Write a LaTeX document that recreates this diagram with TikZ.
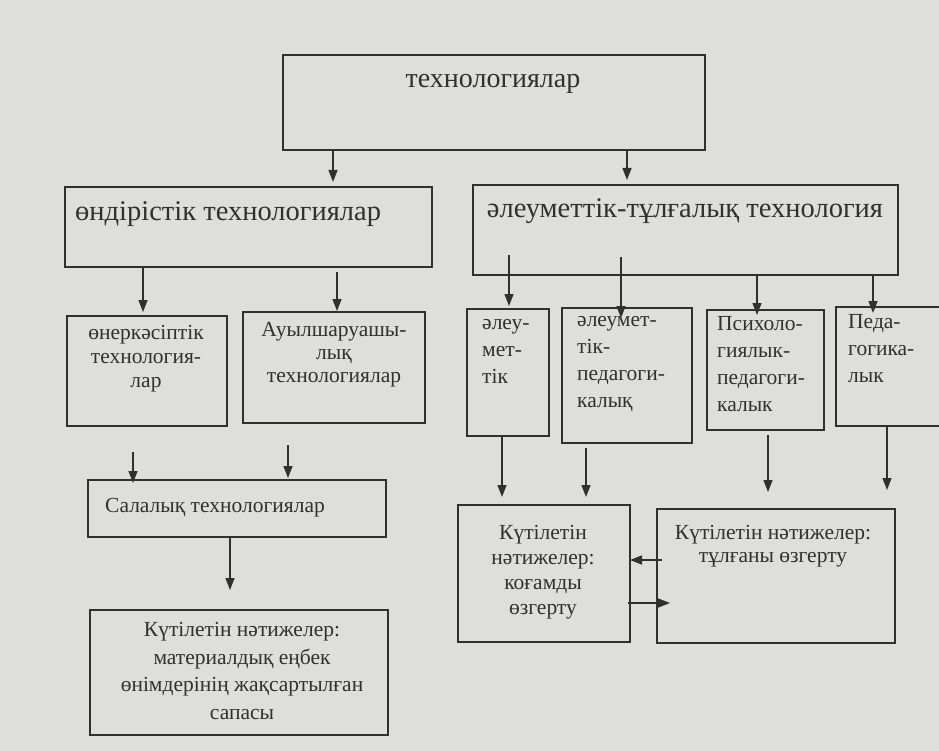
\documentclass[tikz,border=0pt]{standalone}
\usepackage{fontspec}
\setmainfont{Liberation Serif}
\usetikzlibrary{arrows.meta,calc}
\definecolor{paper}{RGB}{222,222,218}
\definecolor{ink}{RGB}{48,48,48}
\begin{document}
\begin{tikzpicture}[x=1pt,y=-1pt,
  box/.style={draw=ink, line width=1.5pt, anchor=north west, inner sep=0pt, outer sep=0pt},
  big/.style={font=\fontsize{28.5}{31}\selectfont, text=ink, inner sep=0pt},
  small/.style={text=ink, inner sep=0pt},
  arr/.style={draw=ink, line width=1.4pt, -{Triangle[length=12pt,width=9pt]}}]
\clip (0,0) rectangle (939,751);
\fill[paper] (0,0) rectangle (939,751);
% boxes
\node[box, minimum width=422pt, minimum height=95pt] (top) at (283,55) {};
\node[box, minimum width=367pt, minimum height=80pt] (prod) at (65,187) {};
\node[box, minimum width=425pt, minimum height=90pt] (soc) at (473,185) {};
\node[box, minimum width=160pt, minimum height=110pt] (ind) at (67,316) {};
\node[box, minimum width=182pt, minimum height=111pt] (agr) at (243,312) {};
\node[box, minimum width=82pt, minimum height=127pt] (r1) at (467,309) {};
\node[box, minimum width=130pt, minimum height=135pt] (r2) at (562,308) {};
\node[box, minimum width=117pt, minimum height=120pt] (r3) at (707,310) {};
\node[box, minimum width=130pt, minimum height=119pt] (r4) at (836,307) {};
\node[box, minimum width=298pt, minimum height=57pt] (sal) at (88,480) {};
\node[box, minimum width=298pt, minimum height=125pt] (res) at (90,610) {};
\node[box, minimum width=172pt, minimum height=137pt] (soc2) at (458,505) {};
\node[box, minimum width=238pt, minimum height=134pt] (pers) at (657,509) {};
% texts
\node[big, font=\fontsize{28}{31}\selectfont] (ttop) at (493,84) {технологиялар};
\node[big, anchor=west] (tprod) at (75,214) {өндірістік технологиялар};
\node[big] (tsoc) at (685,211) {әлеуметтік-тұлғалық технология};
\node[small, font=\fontsize{21.5}{24}\selectfont, align=center] (tind) at (146,359) {өнеркәсіптік\\технология-\\лар};
\node[small, font=\fontsize{21.5}{23}\selectfont, align=center] (tagr) at (334,355) {Ауылшаруашы-\\лық\\технологиялар};
\node[small, font=\fontsize{21.5}{27}\selectfont, align=left, anchor=west] (tr1) at (482,351) {әлеу-\\мет-\\тік};
\node[small, font=\fontsize{21.5}{27}\selectfont, align=left, anchor=west] (tr2) at (577,364) {әлеумет-\\тік-\\педагоги-\\калық};
\node[small, font=\fontsize{21.5}{27}\selectfont, align=left, anchor=west] (tr3) at (717,364) {Психоло-\\гиялык-\\педагоги-\\калык};
\node[small, font=\fontsize{21.5}{27}\selectfont, align=left, anchor=west] (tr4) at (848,349) {Педа-\\гогика-\\лык};
\node[small, font=\fontsize{21.5}{26}\selectfont, anchor=west] (tsal) at (105,508) {Салалық технологиялар};
\node[small, font=\fontsize{21.5}{27.5}\selectfont, align=center] (tres) at (242,671) {Күтілетін нәтижелер:\\материалдық еңбек\\өнімдерінің жақсартылған\\сапасы};
\node[small, font=\fontsize{21.5}{25}\selectfont, align=center] (tsoc2) at (543,572) {Күтілетін\\нәтижелер:\\коғамды\\өзгерту};
\node[small, font=\fontsize{21.5}{23}\selectfont, align=center] (tpers) at (773,546) {Күтілетін нәтижелер:\\тұлғаны өзгерту};
% connector columns
\coordinate (k1) at (333,0);
\coordinate (k2) at (627,0);
\coordinate (k3) at (143,0);
\coordinate (k4) at (337,0);
\coordinate (k5) at (509,0);
\coordinate (k6) at (621,0);
\coordinate (k7) at (757,0);
\coordinate (k8) at (873,0);
\coordinate (k9) at (133,0);
\coordinate (k10) at (288,0);
\coordinate (k11) at (230,0);
\coordinate (k12) at (502,0);
\coordinate (k13) at (586,0);
\coordinate (k14) at (768,0);
\coordinate (k15) at (887,0);
\coordinate (h1) at (0,560);
\coordinate (h2) at (0,603);
% connectors
\draw[arr] (top.south -| k1) -- ($(prod.north -| k1)+(0,-5)$);
\draw[arr] (top.south -| k2) -- ($(soc.north -| k2)+(0,-5)$);
\draw[arr] (prod.south -| k3) -- ($(ind.north -| k3)+(0,-4)$);
\draw[arr] ($(prod.south -| k4)+(0,5)$) -- ($(agr.north -| k4)+(0,-1)$);
\draw[arr] ($(soc.south -| k5)+(0,-20)$) -- ($(r1.north -| k5)+(0,-3)$);
\draw[arr] ($(soc.south -| k6)+(0,-18)$) -- ($(r2.north -| k6)+(0,10)$);
\draw[arr] (soc.south -| k7) -- ($(r3.north -| k7)+(0,5)$);
\draw[arr] (soc.south -| k8) -- ($(r4.north -| k8)+(0,6)$);
\draw[arr] ($(ind.south -| k9)+(0,26)$) -- ($(sal.north -| k9)+(0,3)$);
\draw[arr] ($(agr.south -| k10)+(0,22)$) -- ($(sal.north -| k10)+(0,-2)$);
\draw[arr] (sal.south -| k11) -- ($(res.north -| k11)+(0,-20)$);
\draw[arr] (r1.south -| k12) -- ($(soc2.north -| k12)+(0,-8)$);
\draw[arr] ($(r2.south -| k13)+(0,5)$) -- ($(soc2.north -| k13)+(0,-8)$);
\draw[arr] ($(r3.south -| k14)+(0,5)$) -- ($(pers.north -| k14)+(0,-17)$);
\draw[arr] (r4.south -| k15) -- ($(pers.north -| k15)+(0,-19)$);
\draw[arr] ($(pers.west |- h1)+(5,0)$) -- (soc2.east |- h1);
\draw[arr] ($(soc2.east |- h2)+(-2,0)$) -- ($(pers.west |- h2)+(13,0)$);
\end{tikzpicture}
\end{document}
